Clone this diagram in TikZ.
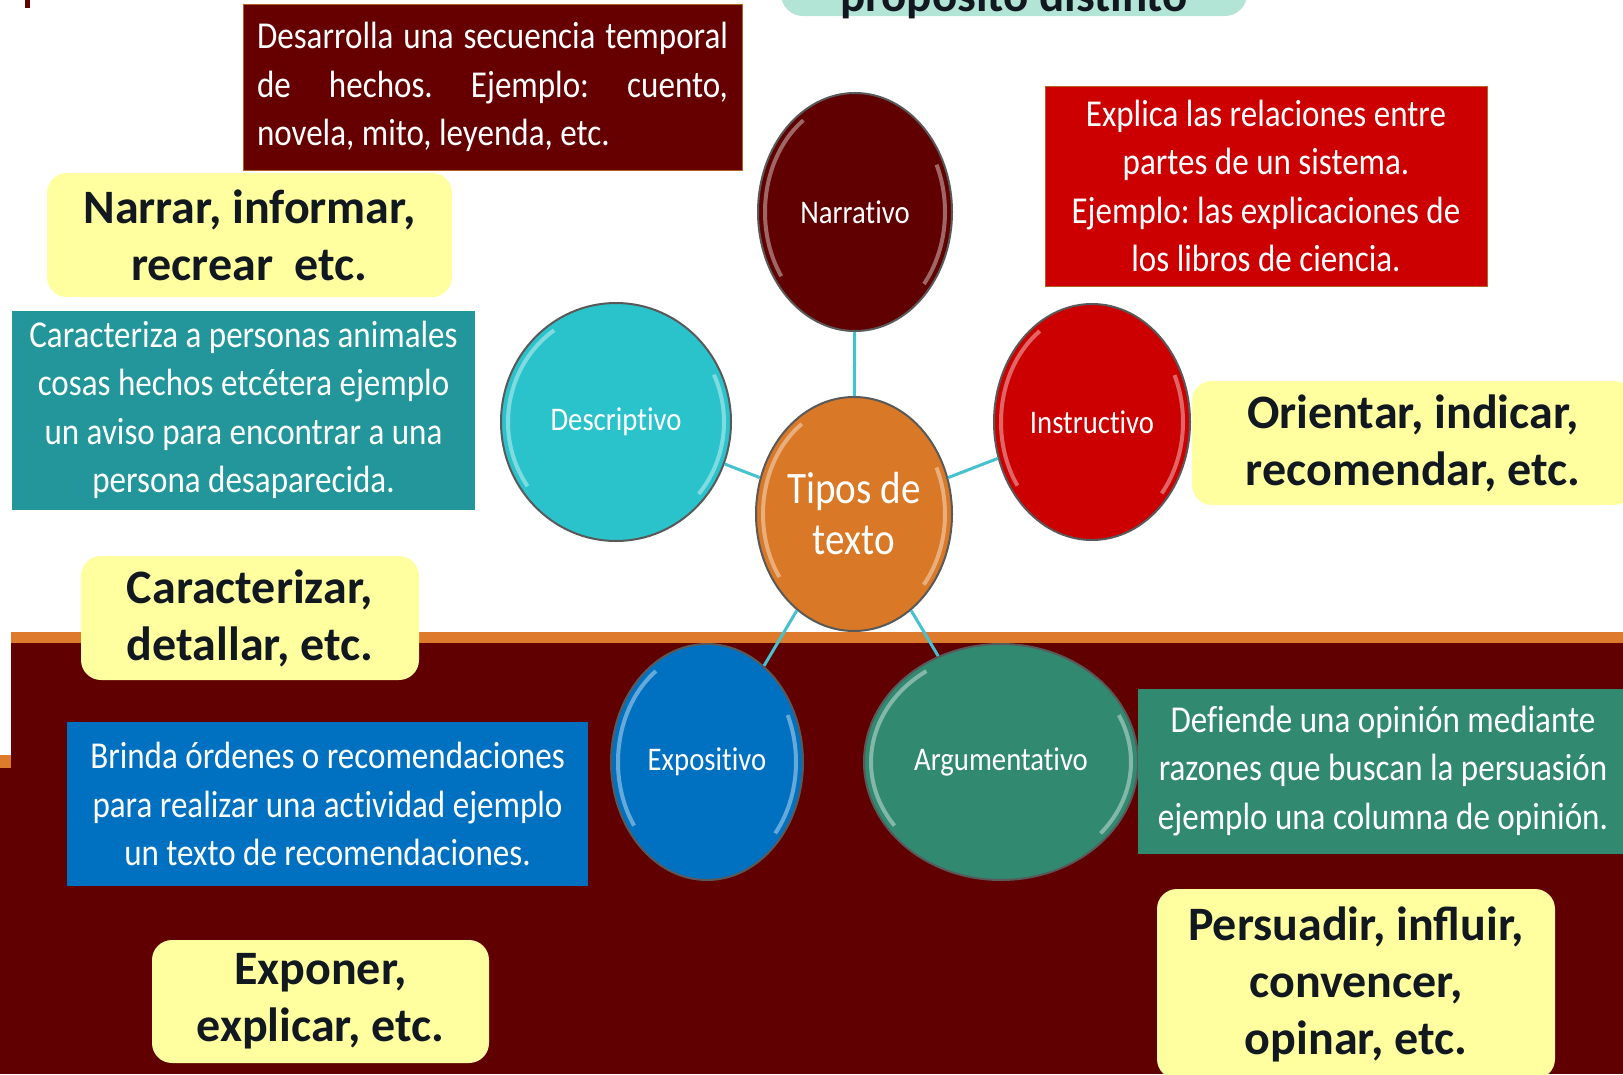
\documentclass[tikz,border=0pt]{standalone}
\usepackage{fontspec}
\setmainfont{Carlito}
\newfontfamily\condfont[FakeStretch=0.87, Ligatures=NoCommon]{Carlito}
\usetikzlibrary{shapes.geometric,calc}
\frenchspacing

\definecolor{bordo}{HTML}{600000}
\definecolor{bordobox}{HTML}{660000}
\definecolor{naranja}{HTML}{DE7A2C}
\definecolor{tipos}{HTML}{D97826}
\definecolor{celeste}{HTML}{2BC3CB}
\definecolor{rojo}{HTML}{CC0000}
\definecolor{azul}{HTML}{0070C0}
\definecolor{verde}{HTML}{31896F}
\definecolor{turquesa}{HTML}{22969A}
\definecolor{menta}{HTML}{B3E5D6}
\definecolor{amarillo}{HTML}{FFFFA0}
\definecolor{tinta}{HTML}{121820}
\definecolor{enlace}{HTML}{45C1CF}

\begin{document}
\begin{tikzpicture}[
                    x=1pt, y=-1pt,
                    bubble/.style={
                        ellipse,
                        draw=black!65,
                        line width=2pt,
                        inner sep=0pt,
                        text=white,
                        font=\condfont\fontsize{33}{38}\selectfont,
                        path picture={
                            \draw[white, opacity=.4, line width=4pt, x=1pt, y=1pt]
                                let \p1=(path picture bounding box.north east),
                                    \p2=(path picture bounding box.center),
                                    \n1={\x1-\x2-7pt}, \n2={\y1-\y2-7pt} in
                                (\p2) ++(125:\n1 and \n2) arc[start angle=125, end angle=215, x radius=\n1, y radius=\n2]
                                (\p2) ++(-40:\n1 and \n2) arc[start angle=-40, end angle=25, x radius=\n1, y radius=\n2];
                        }
                    },
                    info/.style={
                        rectangle,
                        inner sep=0pt,
                        text=white,
                        align=center,
                        font=\condfont\fontsize{38}{48.5}\selectfont
                    },
                    goal/.style={
                        rectangle,
                        rounded corners=20pt,
                        fill=amarillo,
                        inner sep=0pt,
                        align=center,
                        text=tinta,
                        font=\bfseries\fontsize{48}{57}\selectfont
                    },
                    link/.style={draw=enlace, line width=3pt}
                ]
                    \useasboundingbox (0,0) rectangle (1623,1074);

                    % Background band
                    \fill[bordo] (11,632) rectangle (1623,1074);
                    \fill[naranja] (11,632) rectangle (1623,643);
                    \fill[naranja] (0,755) rectangle (11,768);
                    \fill[bordo] (0,768) rectangle (11,1074);
                    \fill[bordo] (25,0) rectangle (30,8);

                    % Title box (cut at the top)
                    \node[fill=menta, rounded corners=22pt, minimum width=466pt, inner ysep=5pt,
                          text depth=0pt, anchor=base, text=tinta,
                          font=\bfseries\fontsize{47}{50}\selectfont] (proposito) at (1014,11) {propósito distinto};

                    % Types
                    \node[bubble, fill=tipos, minimum width=196pt, minimum height=234pt, align=center,
                          font=\condfont\fontsize{45}{51}\selectfont] (tipos) at (854,514) {Tipos de\\texto};
                    \node[bubble, fill=bordo, minimum width=194pt, minimum height=238pt] (narr) at (855,212) {Narrativo};
                    \node[bubble, fill=celeste, minimum width=230pt, minimum height=238pt] (desc) at (616,422) {Descriptivo};
                    \node[bubble, fill=rojo, minimum width=196pt, minimum height=236pt] (instr) at (1092,422) {Instructivo};
                    \node[bubble, fill=azul, minimum width=192pt, minimum height=236pt] (expo) at (707,762) {Expositivo};
                    \node[bubble, fill=verde, minimum width=274pt, minimum height=236pt] (arg) at (1001,762) {Argumentativo};

                    % Edges
                    \draw[link] (tipos) -- (narr);
                    \draw[link] (tipos) -- (desc);
                    \draw[link] (tipos) -- (instr);
                    \draw[link] (tipos) -- (expo);
                    \draw[link] (tipos) -- (arg);

                    % Descriptions
                    \node[info, fill=bordobox, draw=naranja!80!black, line width=1pt, align=left,
                          minimum width=499pt, minimum height=166pt] (desarrolla) at (492.5,87)
                        {\makebox[471pt][s]{Desarrolla una secuencia temporal}\\
                         \makebox[471pt][s]{de hechos. Ejemplo: cuento,}\\
                         novela, mito, leyenda, etc.};
                    \node[info, fill=rojo, draw=naranja!80!black, line width=1pt,
                          minimum width=442pt, minimum height=200pt] (explica) at (1266,186)
                        {Explica las relaciones entre\\partes de un sistema.\\Ejemplo: las explicaciones de\\los libros de ciencia.};
                    \node[info, fill=turquesa, minimum width=463pt, minimum height=199pt] (caracteriza) at (243.5,410)
                        {Caracteriza a personas animales\\cosas hechos etcétera ejemplo\\un aviso para encontrar a una\\persona desaparecida.};
                    \node[info, fill=azul, minimum width=521pt, minimum height=164pt] (brinda) at (327.5,804)
                        {Brinda órdenes o recomendaciones\\para realizar una actividad ejemplo\\un texto de recomendaciones.};
                    \node[info, fill=verde, minimum width=490pt, minimum height=165pt] (defiende) at (1383,771)
                        {Defiende una opinión mediante\\razones que buscan la persuasión\\ejemplo una columna de opinión.};

                    % Purposes
                    \node[goal, minimum width=405pt, minimum height=124pt] (narrar) at (249.5,235) {Narrar, informar,\\recrear\ \ etc.};
                    \node[goal, minimum width=442pt, minimum height=124pt] (orientar) at (1413,443) {Orientar, indicar,\\recomendar, etc.};
                    \node[goal, minimum width=338pt, minimum height=124pt] (caracterizar) at (250,618) {Caracterizar,\\detallar, etc.};
                    \node[goal, minimum width=337pt, minimum height=123pt] (exponer) at (320.5,1001.5) {Exponer,\\explicar, etc.};
                    \node[goal, minimum width=398pt, minimum height=190pt] (persuadir) at (1356,984) {Persuadir, influir,\\convencer,\\opinar, etc.};
                \end{tikzpicture}
\end{document}
